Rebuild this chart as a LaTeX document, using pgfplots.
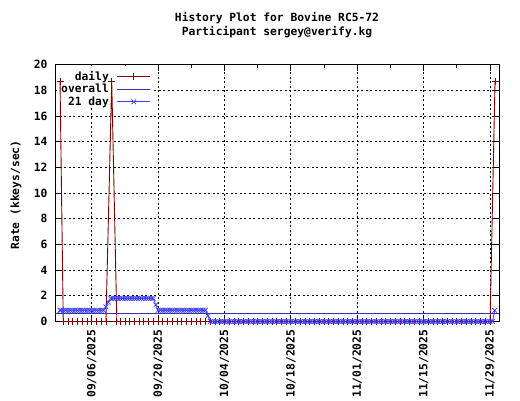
\documentclass[border=0pt]{standalone}
\usepackage{fontspec}
\setmainfont{DejaVu Sans Mono}
\usepackage{pgfplots}
\pgfplotsset{compat=1.18}
\definecolor{dred}{RGB}{128,0,0}
\definecolor{ovblue}{RGB}{50,50,170}
\definecolor{avblue}{RGB}{60,60,255}
\newcommand\gf{\fontsize{11.3}{13.5}\selectfont\bfseries}
\begin{document}
\begin{tikzpicture}
\useasboundingbox (0pt,0pt) rectangle (520pt,400pt);
\begin{axis}[
  at={(55pt,78.5pt)}, anchor=south west,
  scale only axis, width=444.3pt, height=257pt,
  xmin=-7.74, xmax=85.95, ymin=0, ymax=20,
  xtick={0,14,28,42,56,70,84},
  xticklabels={09/06/2025,09/20/2025,10/04/2025,10/18/2025,11/01/2025,11/15/2025,11/29/2025},
  minor x tick num=1,
  ytick={0,2,...,20},
  /pgf/number format/assume math mode=true,
  tick label style={font=\gf},
  x tick label style={rotate=90, anchor=east, inner sep=0pt},
  xticklabel shift=8pt,
  y tick label style={xshift=-4pt},
  major tick length=6pt, minor tick length=3pt,
  tick style={black, line width=0.8pt},
  axis line style={black, line width=0.9pt},
  grid=major,
  grid style={black, line width=0.8pt, dash pattern=on 2pt off 2.5pt},
  legend cell align=right,
  legend plot pos=right,
  legend style={at={(0,1)}, anchor=north west, xshift=3pt, yshift=-3.5pt, draw=none, fill=none, font=\gf,
    inner sep=1pt, row sep=-1.6pt, column sep=6pt},
  legend image code/.code={\draw[mark repeat=2,mark phase=2,#1] plot coordinates {(0pt,0pt) (16.5pt,0pt) (33pt,0pt)};},
]
\fill[white] (rel axis cs:0.004,0.83) rectangle (rel axis cs:0.218,0.996);
\addplot[dred, line width=0.9pt, mark=+, mark size=3.5pt, mark options={solid, line width=0.8pt}] coordinates {
(-6.68,18.7) (-6,0) (-5,0) (-4,0) (-3,0) (-2,0) (-1,0) (0,0) (1,0) (2,0) (3,0)
(4.22,18.7) (5.3,0) (6,0) (7,0) (8,0) (9,0) (10,0) (11,0) (12,0) (13,0) (14,0)
(15,0) (16,0) (17,0) (18,0) (19,0) (20,0) (21,0) (22,0) (23,0) (24,0) (25,0)
(26,0) (27,0) (28,0) (29,0) (30,0) (31,0) (32,0) (33,0) (34,0) (35,0) (36,0)
(37,0) (38,0) (39,0) (40,0) (41,0) (42,0) (43,0) (44,0) (45,0) (46,0) (47,0)
(48,0) (49,0) (50,0) (51,0) (52,0) (53,0) (54,0) (55,0) (56,0) (57,0) (58,0)
(59,0) (60,0) (61,0) (62,0) (63,0) (64,0) (65,0) (66,0) (67,0) (68,0) (69,0)
(70,0) (71,0) (72,0) (73,0) (74,0) (75,0) (76,0) (77,0) (78,0) (79,0) (80,0)
(81,0) (82,0) (83,0) (84,0) (85.05,18.7)
};
\addlegendentry{daily}
\addplot[ovblue, line width=0.9pt, mark=none] coordinates {(-7.74,0.63) (85.95,0.63)};
\addlegendentry{overall}
\addplot[avblue, line width=0.8pt, mark=x, mark size=3.3pt, mark options={solid, line width=0.7pt}] coordinates {
(-6.7,0.87) (-6.5,0.87) (-6,0.87) (-5.5,0.87) (-5,0.87) (-4.5,0.87) (-4,0.87) (-3.5,0.87)
(-3,0.87) (-2.5,0.87) (-2,0.87) (-1.5,0.87) (-1,0.87) (-0.5,0.87) (0,0.87) (0.5,0.87)
(1,0.87) (1.5,0.87) (2,0.87) (2.5,0.87) (3,1.15) (3.5,1.5) (4,1.8) (4.5,1.8)
(5,1.8) (5.5,1.8) (6,1.8) (6.5,1.8) (7,1.8) (7.5,1.8) (8,1.8) (8.5,1.8)
(9,1.8) (9.5,1.8) (10,1.8) (10.5,1.8) (11,1.8) (11.5,1.8) (12,1.8) (12.5,1.8)
(13,1.8) (13.5,1.3) (14,0.88) (14.5,0.88) (15,0.88) (15.5,0.88) (16,0.88) (16.5,0.88)
(17,0.88) (17.5,0.88) (18,0.88) (18.5,0.88) (19,0.88) (19.5,0.88) (20,0.88) (20.5,0.88)
(21,0.88) (21.5,0.88) (22,0.88) (22.5,0.88) (23,0.88) (23.5,0.88) (24,0.88) (24.5,0.45)
(25,0) (25.5,0) (26,0) (26.5,0) (27,0) (27.5,0) (28,0) (28.5,0) (29,0) (29.5,0)
(30,0) (30.5,0) (31,0) (31.5,0) (32,0) (32.5,0) (33,0) (33.5,0) (34,0) (34.5,0)
(35,0) (35.5,0) (36,0) (36.5,0) (37,0) (37.5,0) (38,0) (38.5,0) (39,0) (39.5,0)
(40,0) (40.5,0) (41,0) (41.5,0) (42,0) (42.5,0) (43,0) (43.5,0) (44,0) (44.5,0)
(45,0) (45.5,0) (46,0) (46.5,0) (47,0) (47.5,0) (48,0) (48.5,0) (49,0) (49.5,0)
(50,0) (50.5,0) (51,0) (51.5,0) (52,0) (52.5,0) (53,0) (53.5,0) (54,0) (54.5,0)
(55,0) (55.5,0) (56,0) (56.5,0) (57,0) (57.5,0) (58,0) (58.5,0) (59,0) (59.5,0)
(60,0) (60.5,0) (61,0) (61.5,0) (62,0) (62.5,0) (63,0) (63.5,0) (64,0) (64.5,0)
(65,0) (65.5,0) (66,0) (66.5,0) (67,0) (67.5,0) (68,0) (68.5,0) (69,0) (69.5,0)
(70,0) (70.5,0) (71,0) (71.5,0) (72,0) (72.5,0) (73,0) (73.5,0) (74,0) (74.5,0)
(75,0) (75.5,0) (76,0) (76.5,0) (77,0) (77.5,0) (78,0) (78.5,0) (79,0) (79.5,0)
(80,0) (80.5,0) (81,0) (81.5,0) (82,0) (82.5,0) (83,0) (83.5,0) (84,0) (84.5,0)
(85,0.87)
};
\addlegendentry{21 day}
\end{axis}
\node[align=center, font=\gf] at (277pt,375pt) {History Plot for Bovine RC5-72\\Participant sergey@verify.kg};
\node[rotate=90, font=\gf] at (16pt,205pt) {Rate (kkeys/sec)};
\end{tikzpicture}
\end{document}
